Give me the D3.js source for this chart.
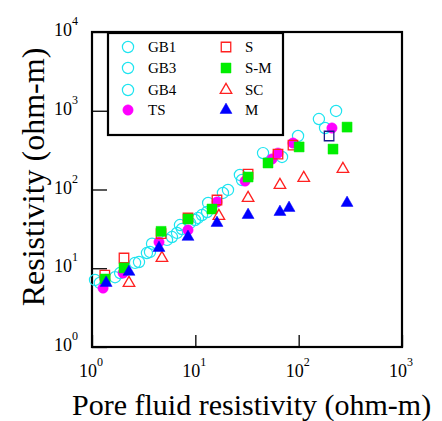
<!DOCTYPE html>
<html><head><meta charset="utf-8">
<script src="https://cdn.jsdelivr.net/npm/d3@7"></script>
<style>html,body{margin:0;padding:0;background:#fff;}svg{display:block;font-family:"Liberation Serif","Times New Roman",serif;}</style>
</head><body>
<svg id="c" width="442" height="421"></svg>
<script>
// ---- data (x = pore fluid resistivity, y = resistivity; ohm-m) ----
const gb1 = [[1.07,7.1],[1.67,7.7],[2.61,11.7],[3.40,15.6],[5.32,22.9],[6.65,28.1],[9.93,41.0],[11.6,47.4],[13.3,67.5],[20.7,98.6],[28.3,132],[69.0,259],[157,785]];
const gb3 = [[1.19,6.5],[1.87,8.7],[2.85,12.0],[3.64,16.1],[5.94,24.9],[7.43,31.5],[10.6,43.5],[13.0,51.8],[18.5,90.4],[27.0,153],[45.2,290],[230,993]];
const gb4 = [[3.81,20.5],[7.1,35.4],[8.88,37.6],[98.6,478],[180,604]];
const ts  = [[1.28,5.6],[2.0,8.7],[4.45,21.5],[8.49,30.6],[16.2,69.3],[30.3,128],[55.2,244],[63.1,290],[88.1,389],[210,604]];
const sS  = [[1.33,8.2],[2.04,13.5],[4.66,27.5],[8.49,43.5],[16.2,73.6],[32.4,157],[63.1,282],[88.1,367]];
const sNavy = [[197,478]];
const sm  = [[1.34,7.3],[2.04,10.1],[4.66,29.4],[8.49,42.2],[14.5,56.5],[32.4,144],[50.5,217],[101,347],[215,326],[294,620]];
const sc  = [[2.28,6.5],[4.75,13.5],[16.9,46.0],[32.4,78.0],[65.9,114],[112,140],[268,182]];
const mm  = [[1.37,6.5],[2.28,9.0],[4.45,18.1],[8.49,25.0],[16.2,37.6],[32.4,47.4],[65.9,51.8],[80.7,58.3],[294,67.5]];
const xMajor = [1,10,100,1000];
const yMajor = [1,10,100,1000,10000];
const xMajorExp = ["0","1","2","3"];
const yMajorExp = ["0","1","2","3","4"];
const legendCol1 = ["GB1","GB3","GB4","TS"];
const legendCol2 = ["S","S-M","SC","M"];
const xTitle = "Pore fluid resistivity (ohm-m)";
const yTitle = "Resistivity (ohm-m)";

// ---- layout ----
const L=92,R=402,T=32,B=347;
const svg=d3.select("#c");
const x=d3.scaleLog().domain([1,1000]).range([L,R]);
const y=d3.scaleLog().domain([1,10000]).range([B,T]);

function minors(lo,hi){const a=[];for(let d=lo;d<hi;d*=10)for(let k=2;k<=9;k++)a.push(d*k);return a;}

// axes (ticks inward)
const gx=svg.append("g").attr("transform",`translate(0,${B})`);
gx.call(d3.axisBottom(x).tickValues(minors(1,1000)).tickSize(-5).tickFormat(""));
gx.call(d3.axisBottom(x).tickValues(xMajor).tickSize(-12).tickFormat(""));
const gy=svg.append("g").attr("transform",`translate(${L},0)`);
gy.call(d3.axisLeft(y).tickValues(minors(1,10000)).tickSize(-7).tickFormat(""));
gy.call(d3.axisLeft(y).tickValues(yMajor).tickSize(-15).tickFormat(""));
svg.selectAll(".domain").remove();
svg.selectAll(".tick line").attr("stroke","#000").attr("stroke-width",1.3);

// frame
svg.append("rect").attr("x",L).attr("y",T).attr("width",R-L).attr("height",B-T)
  .attr("fill","none").attr("stroke","#000").attr("stroke-width",2.2);

// tick labels
xMajor.forEach((v,i)=>{
  const t=svg.append("text").attr("x",x(v)-13).attr("y",377).attr("font-size",18);
  t.append("tspan").text("10");
  t.append("tspan").attr("font-size",12).attr("dy",-11).text(xMajorExp[i]);
});
yMajor.forEach((v,i)=>{
  const t=svg.append("text").attr("x",54).attr("y",y(v)+4).attr("font-size",18);
  t.append("tspan").text("10");
  t.append("tspan").attr("font-size",12).attr("dy",-11).text(yMajorExp[i]);
});

// titles
svg.append("text").attr("x",72).attr("y",415).attr("font-size",30).text(xTitle);
svg.append("text").attr("transform","translate(44,177) rotate(-90)").attr("text-anchor","middle")
  .attr("font-size",32).text(yTitle);

// markers
const CY="#1ee4f0", MG="#ff00ff", RD="#ff2020", GR="#00ee00", BL="#0000ff";
const plot=svg.append("g");
function circles(data,open,col){
  plot.selectAll(null).data(data).enter().append("circle")
    .attr("cx",d=>x(d[0])).attr("cy",d=>y(d[1])).attr("r",open?5.6:5.2)
    .attr("fill",open?"none":col).attr("stroke",col).attr("stroke-width",open?1.2:0.5);
}
function syms(data,type,size,open,col){
  plot.selectAll(null).data(data).enter().append("path")
    .attr("transform",d=>`translate(${x(d[0])},${y(d[1])})`)
    .attr("d",d3.symbol().type(type).size(size)())
    .attr("fill",open?"none":col).attr("stroke",col).attr("stroke-width",open?1.3:0.5);
}
circles(gb1,true,CY); circles(gb3,true,CY); circles(gb4,true,CY);
circles(ts,false,MG);
syms(sS,d3.symbolSquare,90,true,RD);
syms(sNavy,d3.symbolSquare,90,true,"#1a1a8c");
syms(sm,d3.symbolSquare,100,false,GR);
syms(sc,d3.symbolTriangle,58,true,RD);
syms(mm,d3.symbolTriangle,62,false,BL);

// legend
const lg=svg.append("g");
lg.append("rect").attr("x",108).attr("y",33).attr("width",175).attr("height",102)
  .attr("fill","#fff").attr("stroke","#000").attr("stroke-width",2.2);
const rows=[47,68,90,110];
legendCol1.forEach((s,i)=>{
  lg.append("circle").attr("cx",128).attr("cy",rows[i]).attr("r",i<3?5.6:5.2)
    .attr("fill",i<3?"none":MG).attr("stroke",i<3?CY:MG).attr("stroke-width",i<3?1.2:0.5);
  lg.append("text").attr("x",148).attr("y",rows[i]+5).attr("font-size",15).text(s);
});
const legSym=[[d3.symbolSquare,90,true,RD],[d3.symbolSquare,100,false,GR],[d3.symbolTriangle,58,true,RD],[d3.symbolTriangle,62,false,BL]];
legendCol2.forEach((s,i)=>{
  const m=legSym[i];
  lg.append("path").attr("transform",`translate(226,${rows[i]})`).attr("d",d3.symbol().type(m[0]).size(m[1])())
    .attr("fill",m[2]?"none":m[3]).attr("stroke",m[3]).attr("stroke-width",m[2]?1.3:0.5);
  lg.append("text").attr("x",245).attr("y",rows[i]+5).attr("font-size",15).text(s);
});
</script>
</body></html>
